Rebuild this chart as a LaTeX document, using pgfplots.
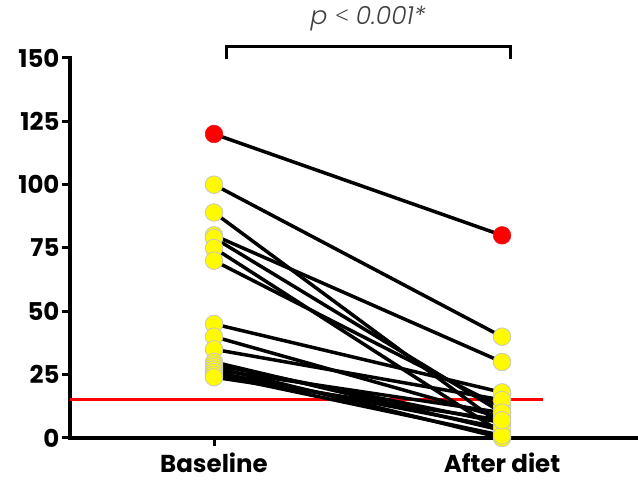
\documentclass[border=0pt]{standalone}
\usepackage{fontspec}
\setmainfont{Poppins}
\newfontfamily\plight{Poppins}[UprightFont=* Light, ItalicFont=* Light Italic]
\newfontfamily\symfont{Open Sans}[UprightFont=* Light]
\usepackage{pgfplots}
\pgfplotsset{compat=1.18}
\definecolor{myyellow}{RGB}{255,250,0}
\begin{document}
\begin{tikzpicture}
\begin{axis}[
  scale only axis,
  width=568pt, height=380pt,
  xmin=-0.5, xmax=1.472, ymin=0, ymax=150,
  axis lines*=left,
  axis line style={line width=4pt, line cap=rect},
  xtick={0,1}, xticklabels={Baseline, After diet},
  ytick={0,25,50,75,100,125,150},
  tick align=outside,
  major tick length=8pt,
  tick style={line width=3pt, black},
  every tick label/.append style={font=\fontsize{24.5}{26}\selectfont\bfseries},
  /pgf/number format/assume math mode=true,
  yticklabel style={xshift=1pt},
  xticklabel style={yshift=-3pt},
  clip=false,
]
% threshold line
\addplot[red, line width=3pt, forget plot] coordinates {(-0.5,15) (1.142,15)};
% paired lines
\addplot[black, line width=3.5pt] coordinates {(0,120) (1,80)};
\addplot[black, line width=3.5pt] coordinates {(0,100) (1,40)};
\addplot[black, line width=3.5pt] coordinates {(0,89) (1,5)};
\addplot[black, line width=3.5pt] coordinates {(0,80) (1,30)};
\addplot[black, line width=3.5pt] coordinates {(0,79) (1,10)};
\addplot[black, line width=3.5pt] coordinates {(0,75) (1,2)};
\addplot[black, line width=3.5pt] coordinates {(0,70) (1,12)};
\addplot[black, line width=3.5pt] coordinates {(0,45) (1,18)};
\addplot[black, line width=3.5pt] coordinates {(0,40) (1,8)};
\addplot[black, line width=3.5pt] coordinates {(0,35) (1,15)};
\addplot[black, line width=3.5pt] coordinates {(0,30) (1,3)};
\addplot[black, line width=3.5pt] coordinates {(0,29) (1,6)};
\addplot[black, line width=3.5pt] coordinates {(0,28) (1,0)};
\addplot[black, line width=3.5pt] coordinates {(0,27) (1,10)};
\addplot[black, line width=3.5pt] coordinates {(0,26) (1,4)};
\addplot[black, line width=3.5pt] coordinates {(0,25) (1,1)};
\addplot[black, line width=3.5pt] coordinates {(0,24) (1,7)};
% markers
\addplot[only marks, mark=*, mark size=8.8pt, mark options={fill=myyellow, draw=gray!45, line width=0.8pt}]
 coordinates {(0,100) (0,89) (0,80) (0,79) (0,75) (0,70) (0,45) (0,40) (0,35) (0,30) (0,29) (0,28) (0,27) (0,26) (0,25) (0,24)
              (1,40) (1,5) (1,30) (1,10) (1,2) (1,12) (1,18) (1,8) (1,15) (1,3) (1,6) (1,0) (1,10) (1,4) (1,1) (1,7)};
\addplot[only marks, mark=*, mark size=8.8pt, mark options={fill=red, draw=red!80!gray, line width=0.6pt}]
 coordinates {(0,120) (1,80)};
% significance bracket
\draw[line width=3pt] (axis cs:0.045,149.5) -- (axis cs:0.045,154.5) -- (axis cs:1.03,154.5) -- (axis cs:1.03,149.5);
\node[font=\fontsize{25}{27}\selectfont\plight\itshape, text=black!75] at (axis cs:0.535,165.5) {p {\symfont <} 0.001*};
\end{axis}
\pgfresetboundingbox
\path[use as bounding box] (-70pt,-46pt) rectangle (568pt,438pt);
\end{tikzpicture}
\end{document}
